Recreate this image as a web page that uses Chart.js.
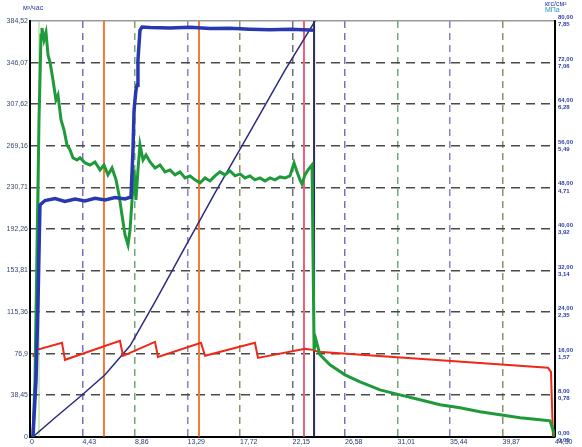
<!DOCTYPE html>
<html>
<head>
<meta charset="utf-8">
<script src="https://cdn.jsdelivr.net/npm/chart.js@4.4.1/dist/chart.umd.min.js"></script>
<style>
  body { margin: 0; background: #fff; }
  #chart { display: block; }
</style>
</head>
<body>
<canvas id="chart" width="582" height="447"></canvas>
<script>
// axis ticks
const xTickValues = [0, 4.43, 8.86, 13.29, 17.72, 22.15, 26.58, 31.01, 35.44, 39.87, 44.3];
const xTickLabels = ["0", "4,43", "8,86", "13,29", "17,72", "22,15", "26,58", "31,01", "35,44", "39,87", "44,30"];
const leftTickValues = [0, 38.45, 76.9, 115.36, 153.81, 192.26, 230.71, 269.16, 307.62, 346.07, 384.52];
const leftTickLabels = ["0", "38,45", "76,9", "115,36", "153,81", "192,26", "230,71", "269,16", "307,62", "346,07", "384,52"];
const rightTickValues = [0, 8, 16, 24, 32, 40, 48, 56, 64, 72, 80];
const rightTickLabels = ["0,00", "8,00", "16,00", "24,00", "32,00", "40,00", "48,00", "56,00", "64,00", "72,00", "80,00"];
const rightTickLabels2 = ["0,00", "0,78", "1,57", "2,35", "3,14", "3,92", "4,71", "5,49", "6,28", "7,06", "7,85"];

// blue series (flow)
const blueTime = [0.25, 0.51, 0.68, 0.84, 1.27, 2.11, 2.95, 3.80, 4.64, 5.48, 6.33, 7.17, 8.02, 8.44,
  8.52, 8.69, 8.78, 8.94, 9.03, 9.11, 9.28, 9.45, 10.13, 11.81, 13.50, 15.19, 16.88, 18.56, 20.25, 21.94, 23.63, 23.88];
const blueValue = [0, 52.7, 126.6, 214.4, 218.5, 220.3, 217.6, 219.8, 218.2, 220.6, 219.1, 221.2, 220.0, 221.5,
  221.8, 265, 302, 320.7, 325, 348.5, 376, 379, 378.5, 378, 378.8, 377.5, 377.8, 377, 376.5, 376.8, 376.2, 376];

// green series
const greenTime = [0.25, 0.42, 0.59, 0.76, 0.93, 1.01, 1.18, 1.35, 1.52, 1.69, 1.94, 2.19, 2.36, 2.62, 2.87, 3.12,
  3.38, 3.63, 3.97, 4.22, 4.64, 5.06, 5.48, 5.91, 6.24, 6.58, 6.92, 7.26, 7.51, 7.76, 8.02, 8.27, 8.44, 8.61,
  8.78, 8.94, 9.11, 9.28, 9.54, 9.79, 10.13, 10.55, 10.97, 11.39, 11.81, 12.24, 12.66, 13.08, 13.50, 13.92,
  14.35, 14.77, 15.19, 15.61, 16.03, 16.45, 16.88, 17.30, 17.72, 18.14, 18.56, 18.98, 19.41, 19.83, 20.25,
  20.67, 21.10, 21.52, 21.94, 22.28, 22.53, 22.78, 22.95, 23.20, 23.46, 23.80, 23.97, 24.13, 24.47, 25.31,
  26.58, 27.85, 29.53, 31.22, 32.91, 34.60, 36.28, 37.97, 39.66, 41.35, 43.03, 43.88, 44.13, 44.3];
const greenValue = [0, 52.7, 172.8, 293, 371.6, 378, 367, 374, 353, 346.6, 330, 311.5, 316, 293, 283.8, 270,
  265.3, 257.9, 256, 258, 253.3, 251.4, 254.2, 246.8, 251.4, 242.2, 248.6, 237.6, 223.7, 205.2, 186.7, 177.5,
  191.3, 219, 246.8, 219, 246.8, 269.9, 256, 260.7, 254.2, 248.6, 251.4, 245, 246.8, 242.2, 245, 239.4, 241.3,
  237.6, 234.8, 239.4, 236.6, 241.3, 245, 242.2, 245.9, 241.3, 243.1, 239.4, 241.3, 237.6, 239.4, 236.6, 239.4,
  237.6, 240.3, 239.4, 241.3, 253.3, 245, 237.6, 233.9, 242.2, 246.8, 251.4, 80.4, 89.7, 75.8, 66.6,
  57.3, 50.8, 43.4, 38.8, 34.2, 29.6, 26.8, 23.1, 20.3, 17.6, 15.7, 14.8, 6.5, 0];

// red series (sawtooth)
const redTime = [0.25, 0.59, 2.70, 2.95, 7.59, 7.85, 10.55, 10.80, 14.43, 14.77, 18.98, 19.24, 23.20, 23.88, 24.30, 43.71, 43.96, 44.13];
const redValue = [74, 80.4, 86.9, 71.2, 88.7, 74.9, 87.8, 73.9, 86.9, 74.9, 86.9, 73, 81.3, 80.4, 78.6, 63.8, 60.1, 0];

// navy diagonal (accumulated)
const navyTime = [0.25, 2.11, 4.22, 6.33, 8.44, 10.55, 12.91, 15.61, 18.56, 21.52, 24.05];
const navyValue = [0, 17.6, 37, 57.3, 84.1, 124.8, 171.9, 225.5, 281.9, 339.2, 384.5];

// solid vertical event markers
const markerTimes = [0.76, 6.24, 14.26, 23.12, 23.97];
const markerColors = ["#9ad88a", "#f47a3a", "#f47a3a", "#f0607a", "#2a2a5a"];

const Y_MAX = 384.52;
const toPoints = (xs, ys) => xs.map((x, i) => ({ x: x, y: ys[i] }));

const markerSets = markerTimes.map((t, i) => ({
  data: [{ x: t, y: 0 }, { x: t, y: Y_MAX }],
  borderColor: markerColors[i],
  borderWidth: i === 0 ? 1 : 2,
  pointRadius: 0,
  order: 5
}));

const vGridColors = ["#555", "#7a70c0", "#6fa878", "#8a84b8", "#8f8f62", "#707070", "#7a70c0", "#6fa878", "#8a84b8", "#8f8f62", "#000"];

const titlePlugin = {
  id: "axisTitles",
  afterDraw(chart) {
    const ctx = chart.ctx;
    ctx.save();
    ctx.font = "7px 'Liberation Sans'";
    ctx.fillStyle = "#2a3a9a";
    ctx.textAlign = "left";
    ctx.fillText("м³/час", 23, 10);
    ctx.fillText("кгс/см²", 545, 6);
    ctx.fillStyle = "#1a9ac0";
    ctx.fillText("МПа", 545, 12);
    ctx.restore();
  }
};

new Chart(document.getElementById("chart"), {
  type: "line",
  data: {
    datasets: [
      ...markerSets,
      { data: toPoints(navyTime, navyValue), borderColor: "#2c2c80", borderWidth: 1.5, pointRadius: 0, order: 4 },
      { data: toPoints(redTime, redValue), borderColor: "#f02818", borderWidth: 2, pointRadius: 0, order: 3 },
      { data: toPoints(greenTime, greenValue), borderColor: "#1f9a3a", borderWidth: 3, pointRadius: 0, order: 2 },
      { data: toPoints(blueTime, blueValue), borderColor: "#2838b0", borderWidth: 3.5, pointRadius: 0, order: 1 }
    ]
  },
  options: {
    responsive: false,
    animation: false,
    layout: { padding: { top: 21, right: 0, left: 0, bottom: 0 } },
    plugins: { legend: { display: false }, tooltip: { enabled: false } },
    scales: {
      x: {
        type: "linear",
        min: 0,
        max: 44.3,
        afterBuildTicks: s => { s.ticks = xTickValues.map(v => ({ value: v })); },
        afterFit: s => { s.height = 10; },
        ticks: {
          align: "start",
          padding: 1,
          autoSkip: false,
          maxRotation: 0,
          color: "#2a3a6a",
          font: { family: "Liberation Sans", size: 7 },
          callback: (v, i) => xTickLabels[i]
        },
        grid: {
          color: c => vGridColors[c.index] || "#777",
          lineWidth: 1.5,
          drawTicks: false
        },
        border: { color: "#000", width: 2, dash: [7, 5] }
      },
      y: {
        position: "left",
        min: 0,
        max: Y_MAX,
        afterBuildTicks: s => { s.ticks = leftTickValues.map(v => ({ value: v })); },
        afterFit: s => { s.width = 30; },
        ticks: {
          padding: 2,
          color: "#3a4a72",
          font: { family: "Liberation Sans", size: 7 },
          callback: (v, i) => leftTickLabels[i]
        },
        grid: {
          color: c => (c.index === 10 ? "#999" : "#4a4a4a"),
          lineWidth: 1.5,
          drawTicks: false
        },
        border: {
          color: "#000",
          width: 2,
          dash: c => (c.index === 10 || c.index === 0 ? [] : [9, 6])
        }
      },
      y2: {
        position: "right",
        min: 0,
        max: 80,
        afterBuildTicks: s => { s.ticks = rightTickValues.map(v => ({ value: v })); },
        afterFit: s => { s.width = 27; },
        ticks: {
          padding: 3,
          color: "#2a3ea8",
          font: { family: "Liberation Sans", size: 6, weight: "bold" },
          callback: (v, i) => [rightTickLabels[i], rightTickLabels2[i]]
        },
        grid: { display: false, drawTicks: false },
        border: { color: "#000", width: 2 }
      }
    }
  },
  plugins: [titlePlugin]
});
</script>
</body>
</html>
